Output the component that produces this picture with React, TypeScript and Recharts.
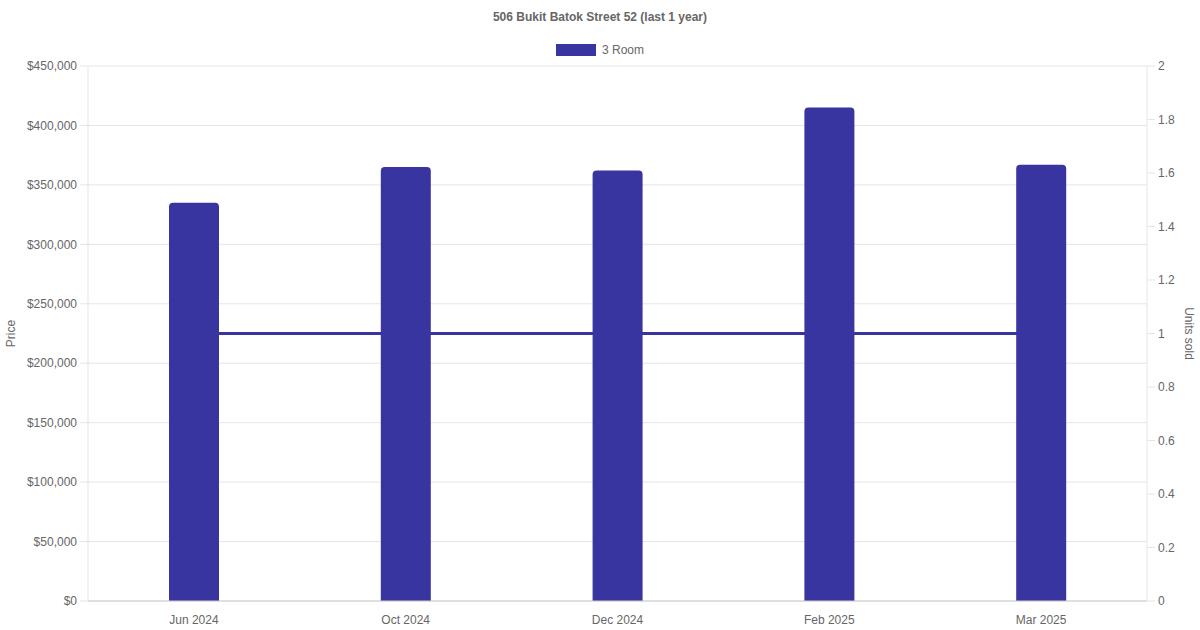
import { ComposedChart, Bar, Line, XAxis, YAxis, CartesianGrid } from 'recharts';

const months = ['Jun 2024', 'Oct 2024', 'Dec 2024', 'Feb 2025', 'Mar 2025'];
const prices = [335000, 365000, 362000, 415000, 367000];
const unitsSold = [1, 1, 1, 1, 1];
const priceTicks = [0, 50000, 100000, 150000, 200000, 250000, 300000, 350000, 400000, 450000];
const unitTicks = [0, 0.2, 0.4, 0.6, 0.8, 1, 1.2, 1.4, 1.6, 1.8, 2];

const data = months.map((month, i) => ({ month, price: prices[i], units: unitsSold[i] }));

const COLOR = '#3834a0';
const TEXT = '#666';
const GRID = '#e5e5e5';
const FONT = '"Liberation Sans", Arial, Helvetica, sans-serif';

const formatPrice = (v: number) => '$' + v.toLocaleString('en-US');

export default function App() {
  return (
    <div style={{ position: 'relative', width: 1200, height: 630, fontFamily: FONT, background: '#fff' }}>
      <style>{'body{margin:0}'}</style>
      <div style={{ position: 'absolute', top: 10, width: 1200, textAlign: 'center', fontSize: 12, fontWeight: 'bold', color: TEXT }}>
        506 Bukit Batok Street 52 (last 1 year)
      </div>
      <div style={{ position: 'absolute', top: 43, left: 556, display: 'flex', alignItems: 'center', fontSize: 12, color: TEXT }}>
        <span style={{ display: 'inline-block', width: 40, height: 12, background: COLOR, marginRight: 6 }} />
        3 Room
      </div>
      <ComposedChart width={1200} height={630} data={data} margin={{ top: 66, right: 0, left: 0, bottom: 0 }}>
        <CartesianGrid yAxisId="left" vertical={false} stroke={GRID} />
        <XAxis
          dataKey="month"
          height={29}
          tickLine={false}
          tickSize={12}
          stroke="#ccc"
          tick={{ fill: TEXT, fontSize: 12, fontFamily: FONT }}
        />
        <YAxis
          yAxisId="left"
          width={88}
          domain={[0, 450000]}
          ticks={priceTicks}
          tickFormatter={formatPrice}
          stroke={GRID}
          tickSize={8}
          tickMargin={3}
          tick={{ fill: TEXT, fontSize: 12, fontFamily: FONT }}
          label={{ value: 'Price', angle: -90, position: 'insideLeft', offset: 11, textAnchor: 'middle', fill: TEXT, fontSize: 12, fontFamily: FONT }}
        />
        <YAxis
          yAxisId="right"
          orientation="right"
          width={53}
          domain={[0, 2]}
          ticks={unitTicks}
          stroke={GRID}
          tickSize={8}
          tickMargin={3}
          tick={{ fill: TEXT, fontSize: 12, fontFamily: FONT }}
          label={{ value: 'Units sold', angle: 90, position: 'insideRight', offset: 11, textAnchor: 'middle', fill: TEXT, fontSize: 12, fontFamily: FONT }}
        />
        <Line
          yAxisId="right"
          dataKey="units"
          stroke={COLOR}
          strokeWidth={3}
          dot={false}
          activeDot={false}
          zIndex={250}
          isAnimationActive={false}
        />
        <Bar
          yAxisId="left"
          dataKey="price"
          fill={COLOR}
          barSize={50}
          radius={[4, 4, 0, 0]}
          isAnimationActive={false}
        />
      </ComposedChart>
    </div>
  );
}
